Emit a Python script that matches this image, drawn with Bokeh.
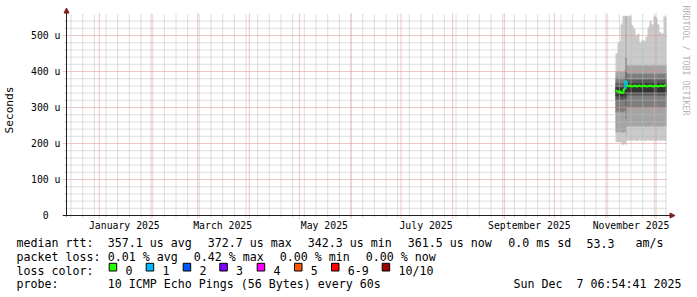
from datetime import datetime, timedelta
from math import pi
from bokeh.plotting import figure
from bokeh.layouts import column
from bokeh.core.properties import value
from bokeh.models import (Range1d, FixedTicker, DatetimeTickFormatter,
                          CustomJSTickFormatter, Arrow, NormalHead)
from bokeh.embed import file_html
from bokeh.resources import INLINE

# ------------------------------------------------------------------ data
END_TIME = datetime(2025, 12, 7, 6, 54, 41)
SPAN_DAYS = 360
FIRST_COL = datetime(2025, 11, 6, 16, 30, 41)   # first consolidated column
COL_STEP_H = 14.4                                 # hours per column

# sorted ping values per column (microseconds), ping01 = fastest ... ping10 = slowest
ping01 = [204, 204, 203, 204, 204, 203, 197, 196, 198, 199, 195,
          207, 208, 209, 207, 208, 206, 208, 209, 208, 207, 206, 208, 209, 208, 207, 208, 209, 208, 206, 207,
          208, 209, 208, 207, 208, 207, 209, 208, 207, 206, 208, 209, 207, 208, 208, 207, 209, 208, 207, 208]
ping02 = [231, 232, 230, 231, 233, 232, 230, 229, 231, 232, 222,
          246, 248, 247, 249, 246, 247, 248, 246, 247, 249, 248, 246, 247, 248, 247, 246, 248, 249, 247, 246,
          248, 247, 246, 248, 249, 247, 248, 246, 247, 248, 247, 249, 246, 248, 247, 246, 248, 247, 249, 248]
ping03 = [286, 288, 290, 287, 289, 288, 286, 287, 289, 290, 268,
          299, 301, 300, 302, 299, 300, 301, 298, 300, 302, 301, 299, 300, 301, 300, 299, 301, 302, 300, 299,
          301, 300, 299, 301, 302, 300, 301, 299, 300, 301, 300, 302, 299, 301, 300, 299, 301, 300, 302, 301]
ping04 = [320, 321, 319, 322, 320, 321, 318, 319, 321, 322, 305,
          332, 334, 333, 333, 332, 334, 333, 332, 333, 334, 333, 332, 333, 334, 333, 332, 334, 333, 333, 332,
          333, 334, 332, 333, 334, 333, 332, 333, 334, 333, 332, 334, 333, 332, 333, 334, 333, 332, 333, 334]
ping05 = [332, 333, 331, 333, 332, 331, 330, 331, 333, 334, 328,
          342, 343, 342, 341, 343, 342, 341, 342, 343, 342, 341, 342, 343, 342, 341, 343, 342, 342, 341, 343,
          342, 341, 342, 343, 342, 341, 342, 343, 342, 341, 343, 342, 341, 342, 343, 342, 341, 342, 343, 342]
ping06 = [356, 357, 355, 356, 357, 355, 354, 355, 357, 358, 378,
          367, 368, 366, 367, 368, 367, 366, 367, 368, 367, 366, 367, 368, 366, 367, 368, 367, 366, 367, 368,
          367, 366, 367, 368, 367, 366, 368, 367, 366, 367, 368, 367, 366, 367, 368, 367, 366, 367, 368, 367]
ping07 = [368, 369, 367, 368, 369, 367, 366, 367, 369, 370, 400,
          378, 379, 377, 378, 379, 378, 377, 378, 379, 378, 377, 378, 379, 377, 378, 379, 378, 377, 378, 379,
          378, 377, 378, 379, 378, 377, 379, 378, 377, 378, 379, 378, 377, 378, 379, 378, 377, 378, 379, 378]
ping08 = [382, 383, 381, 382, 383, 381, 380, 381, 383, 384, 440,
          394, 395, 393, 394, 395, 394, 393, 394, 395, 394, 393, 394, 395, 393, 394, 395, 394, 393, 394, 395,
          394, 393, 394, 395, 394, 393, 395, 394, 393, 394, 395, 394, 393, 394, 395, 394, 393, 394, 395, 394]
ping09 = [398, 400, 397, 399, 401, 399, 398, 400, 402, 403, 553,
          417, 418, 416, 417, 419, 417, 416, 418, 417, 416, 418, 417, 419, 416, 417, 418, 417, 416, 418, 417,
          419, 417, 416, 418, 417, 416, 418, 417, 419, 417, 416, 418, 417, 416, 418, 417, 419, 417, 416, 418]
ping10 = [451, 451, 478, 481, 483, 530, 534, 555, 555, 555, 555,
          555, 555, 555, 555, 555, 530, 528, 520, 518, 500, 502, 505, 505, 482, 480, 486, 488, 486, 484, 495,
          497, 520, 525, 540, 543, 532, 530, 553, 555, 551, 548, 532, 530, 510, 508, 505, 506, 555, 553, 550]
median_us = [347, 346, 344, 343, 345, 342, 340, 341, 350, 353, 372.7,
             362, 360, 359, 361, 360, 358, 359, 360, 361, 359, 358, 360, 361, 360, 359, 358, 360, 361, 359, 360,
             358, 359, 360, 361, 360, 359, 358, 360, 359, 361, 360, 358, 359, 360, 361, 360, 359, 360, 362, 361.5]
loss_count = [0] * 10 + [1] + [0] * 40

y_tick_values = [0, 100, 200, 300, 400, 500]
label_months = [datetime(2025, m, 16) for m in (1, 3, 5, 7, 9, 11)]
loss_labels = ["0", "1", "2", "3", "4", "5", "6-9", "10/10"]
loss_colors = ["#26ff00", "#00b8ff", "#0059ff", "#7e00ff", "#ff00ff", "#ff5500", "#ff0000", "#a00000"]
smoke_colors = ["#cacaca", "#a4a4a4", "#7e7e7e", "#585858", "#323232"]

rtt_title = "median rtt:"
rtt_items = ["357.1 us avg", "372.7 us max", "342.3 us min", "361.5 us now", "0.0 ms sd", "53.3", "am/s"]
loss_title = "packet loss:"
loss_items = ["0.01 % avg", "0.42 % max", "0.00 % min", "0.00 % now"]
color_title = "loss color:"
probe_title = "probe:"
probe_text = "10 ICMP Echo Pings (56 Bytes) every 60s"
stamp_text = "Sun Dec\u00a0 7 06:54:41 2025"
watermark = "RRDTOOL / TOBI OETIKER"
y_label = "Seconds"

# ------------------------------------------------------------------ layout (pixels)
W, H = 697, 297
H_TOP = 234                      # height of the chart figure, legend figure below
PX_LEFT, PX_RIGHT, PX_ZERO, PX_PER_U = 66, 666, 215, 0.36
FR_L, FR_B = 62, 219
MONO = "DejaVu Sans Mono"
LEG = "11.63px"

START = END_TIME - timedelta(days=SPAN_DAYS)
EPOCH = datetime(1970, 1, 1)


def ms(t):
    return (t - EPOCH).total_seconds() * 1000.0


MS_PER_PX = SPAN_DAYS * 86400000.0 / (PX_RIGHT - PX_LEFT)


def X(px):
    return ms(START) + (px - PX_LEFT) * MS_PER_PX


def Y(py):
    return (PX_ZERO - py) / PX_PER_U


p = figure(width=W, height=H_TOP, x_axis_type="datetime", output_backend="svg", toolbar_location=None,
           x_range=Range1d(X(FR_L), X(W)), y_range=Range1d(Y(FR_B), Y(0)),
           min_border_left=FR_L, min_border_right=0, min_border_top=0, min_border_bottom=H_TOP - FR_B)
p.frame_align = False
p.background_fill_color = "white"
p.border_fill_color = "white"
p.outline_line_color = None
p.xgrid.visible = False
p.ygrid.visible = False

# ------------------------------------------------------------------ smoke
n = len(median_us)
step_ms = COL_STEP_H * 3600000.0
lefts = [ms(FIRST_COL) + i * step_ms for i in range(n)]
xs = []
for l in lefts:
    xs += [l, l + step_ms]


def stepped(v):
    out = []
    for a in v:
        out += [a, a]
    return out


pings = [ping01, ping02, ping03, ping04, ping05, ping06, ping07, ping08, ping09, ping10]
for k in range(5):
    p.varea(x=xs, y1=stepped(pings[k]), y2=stepped(pings[9 - k]), fill_color=smoke_colors[k], fill_alpha=1)

# ------------------------------------------------------------------ grid
MINOR = "#bcbcbc"
MAJOR = "#e48c8c"
GRID_TOP = Y(13)
minor_h = [v for v in range(20, 560, 20) if v % 100]
major_h = [v for v in range(100, 560, 100)]
weeks = []
t = datetime(2024, 12, 15)
while t <= END_TIME:
    weeks.append(ms(t))
    t += timedelta(days=7)
months = [ms(datetime(2025, m, 1)) for m in range(1, 13)]

p.segment(x0=[X(64)] * len(minor_h), y0=minor_h, x1=[ms(END_TIME)] * len(minor_h), y1=minor_h,
          line_color=MINOR, line_dash="1 1", line_width=1)
p.segment(x0=weeks, y0=[Y(217)] * len(weeks), x1=weeks, y1=[GRID_TOP] * len(weeks),
          line_color=MINOR, line_dash="1 1", line_width=1)
p.segment(x0=[X(63)] * len(major_h), y0=major_h, x1=[ms(END_TIME)] * len(major_h), y1=major_h,
          line_color=MAJOR, line_dash="1 1", line_width=1)
p.segment(x0=months, y0=[Y(218)] * len(months), x1=months, y1=[GRID_TOP] * len(months),
          line_color=MAJOR, line_dash="1 1", line_width=1)

# ------------------------------------------------------------------ median line coloured by loss
p.line(xs, stepped(median_us), line_color=loss_colors[0], line_width=2)
for i in range(n):
    lc = loss_count[i]
    if lc > 0:
        ci = lc if lc <= 5 else (6 if lc < 10 else 7)
        prev = median_us[i - 1] if i > 0 else median_us[i]
        nxt = median_us[i + 1] if i < n - 1 else median_us[i]
        p.line([lefts[i], lefts[i], lefts[i] + step_ms, lefts[i] + step_ms],
               [prev, median_us[i], median_us[i], nxt], line_color=loss_colors[ci], line_width=2)

# ------------------------------------------------------------------ axes
AXIS = "#1f1f1f"
ARROW = "#801f1f"
p.add_layout(Arrow(end=NormalHead(size=5, fill_color=ARROW, line_color=ARROW, line_width=1),
                   x_start=X(66), y_start=Y(216), x_end=X(66), y_end=Y(7.5),
                   line_color=AXIS, line_width=1))
p.add_layout(Arrow(end=NormalHead(size=5, fill_color=ARROW, line_color=ARROW, line_width=1),
                   x_start=X(62), y_start=0, x_end=X(674.5), y_end=0,
                   line_color=AXIS, line_width=1))

p.yaxis.ticker = FixedTicker(ticks=y_tick_values, minor_ticks=[])
p.yaxis.formatter = CustomJSTickFormatter(code="return tick == 0 ? '0\u00a0\u00a0' : tick.toFixed(0) + ' u';")
p.xaxis.ticker = FixedTicker(ticks=[ms(t) for t in label_months], minor_ticks=[])
fmt = "%B %Y"
p.xaxis.formatter = DatetimeTickFormatter(microseconds=fmt, milliseconds=fmt, seconds=fmt, minsec=fmt,
                                          minutes=fmt, hourmin=fmt, hours=fmt, days=fmt, months=fmt, years=fmt)
for ax in (p.xaxis[0], p.yaxis[0]):
    ax.axis_line_color = None
    ax.major_tick_line_color = None
    ax.minor_tick_line_color = None
    ax.major_tick_in = 0
    ax.major_tick_out = 0
    ax.minor_tick_in = 0
    ax.minor_tick_out = 0
    ax.major_label_text_font = MONO
    ax.major_label_text_font_size = "9.8px"
    ax.major_label_text_color = "black"
p.yaxis.major_label_standoff = 2
p.xaxis.major_label_standoff = 0
p.yaxis.axis_label = y_label
p.yaxis.axis_label_text_font = MONO
p.yaxis.axis_label_text_font_size = "11.2px"
p.yaxis.axis_label_text_font_style = "normal"
p.yaxis.axis_label_text_color = "black"
p.yaxis.axis_label_standoff = 12

# watermark on the right
p.text(x=[X(685)], y=[Y(5)], text=[watermark], angle=-pi / 2, text_align="left",
       text_baseline="alphabetic", text_font=value(MONO), text_font_size=value("8.3px"),
       text_color="#b4b4b4")

# ------------------------------------------------------------------ legend figure (pixel coordinates)
q = figure(width=W, height=H - H_TOP, output_backend="svg", toolbar_location=None,
           x_range=Range1d(0, W), y_range=Range1d(H, H_TOP),
           x_axis_location=None, y_axis_location=None,
           min_border_left=0, min_border_right=0, min_border_top=0, min_border_bottom=0)
q.frame_align = False
q.background_fill_color = "white"
q.border_fill_color = "white"
q.outline_line_color = None
q.xgrid.visible = False
q.ygrid.visible = False


def txt(strings, xs_px, y_px, align="left"):
    q.text(x=list(xs_px), y=[y_px] * len(strings), text=list(strings), text_align=align,
           text_baseline="alphabetic", text_font=value(MONO), text_font_size=value(LEG),
           text_color="black")


ROW = [242.5, 256.2, 270.0, 283.5]
txt([rtt_title] + rtt_items, [16, 107.3, 207.3, 307.3, 407.3, 507.7, 586, 635], ROW[0])
txt([loss_title] + loss_items, [16, 107.3, 193.3, 279.3, 365.3], ROW[1])
box_x = [108.7, 145.7, 182.7, 219.3, 256.7, 294, 331, 381.7]
q.quad(left=box_x, right=[b + 7.5 for b in box_x], top=[262.8] * len(box_x), bottom=[270.5] * len(box_x),
       fill_color=loss_colors, line_color="black", line_width=1)
txt([color_title] + loss_labels, [16] + [b + 16.3 for b in box_x], ROW[2])
txt([probe_title, probe_text], [16, 107.3], ROW[3])
txt([stamp_text], [681], ROW[3], align="right")

layout = column(p, q, spacing=0)
open("out.html", "w").write(file_html(layout, INLINE))
